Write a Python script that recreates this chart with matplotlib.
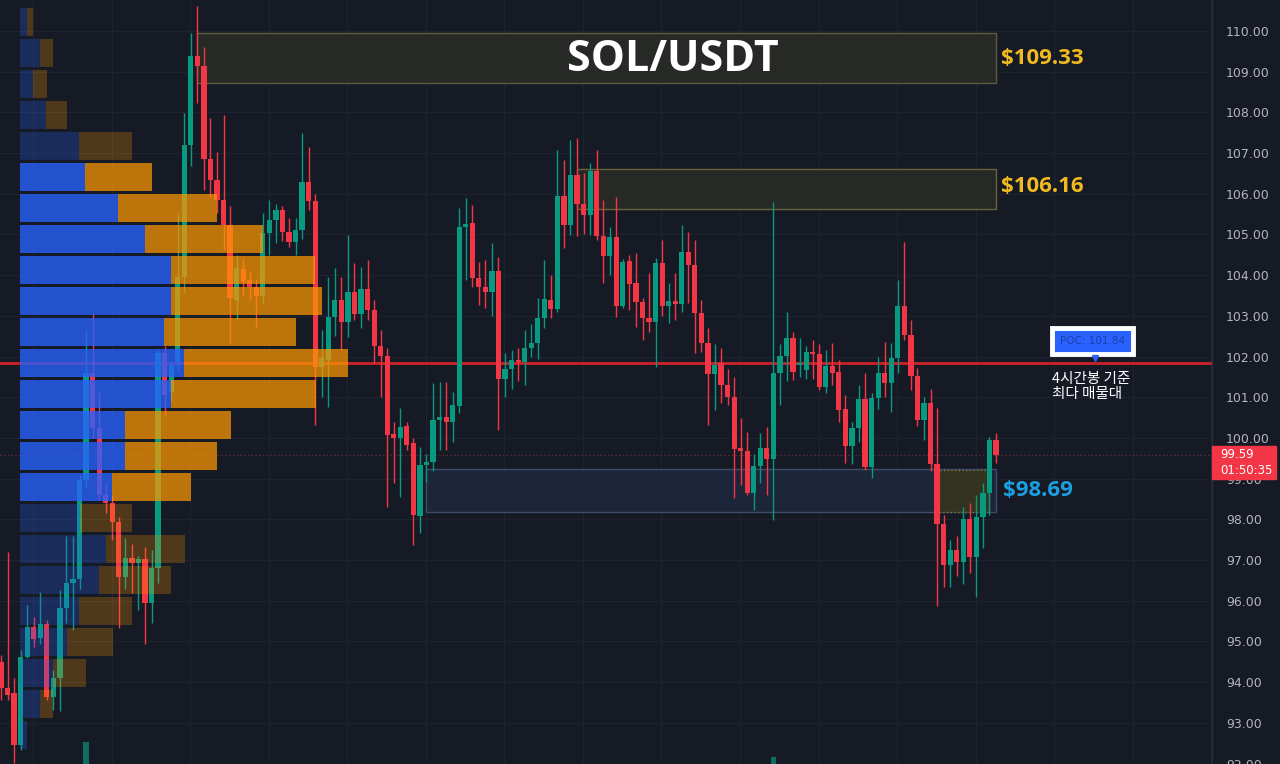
import numpy as np
import matplotlib.pyplot as plt
from matplotlib.patches import Rectangle

# 4h SOL/USDT candles
opens = [94.50, 93.86, 93.73, 92.46, 94.63, 95.36, 95.08, 95.43, 93.64, 94.10,
         95.82, 96.44, 96.53, 98.97, 101.59, 100.24, 98.60, 98.40, 97.94, 96.59,
         97.04, 96.92, 97.02, 95.94, 96.80, 102.08, 101.14, 101.87, 103.96, 107.20,
         109.39, 109.14, 106.85, 106.34, 105.85, 105.23, 103.39, 104.15, 103.88, 103.72,
         103.49, 105.03, 105.36, 105.60, 105.07, 104.82, 105.11, 106.30, 105.81, 101.75,
         101.92, 102.98, 103.39, 102.86, 103.59, 103.05, 103.65, 103.14, 102.26, 102.02,
         100.10, 99.99, 100.29, 99.87, 98.08, 99.34, 99.42, 100.44, 100.51, 100.40,
         100.79, 105.18, 105.29, 103.94, 103.72, 103.59, 104.09, 101.44, 101.69, 101.92,
         101.86, 102.22, 102.33, 102.94, 103.39, 103.16, 105.95, 105.23, 106.46, 105.75,
         105.48, 106.56, 104.95, 104.47, 104.93, 103.25, 104.36, 103.80, 103.35, 102.94,
         102.86, 104.31, 103.23, 103.37, 103.29, 104.58, 104.25, 103.08, 102.34, 101.56,
         101.83, 101.30, 101.00, 99.75, 99.69, 98.64, 99.30, 99.75, 99.48, 101.60,
         102.01, 102.45, 101.80, 101.66, 102.12, 102.06, 101.26, 101.77, 101.63, 100.70,
         99.80, 100.24, 100.96, 99.28, 100.98, 101.59, 101.36, 101.96, 103.24, 102.53,
         101.53, 100.43, 100.85, 99.36, 97.89, 96.88, 97.25, 96.96, 98.00, 97.08,
         98.07, 98.66, 99.95]
closes = [93.86, 93.69, 92.46, 94.63, 95.36, 95.05, 95.43, 93.64, 94.10, 95.82,
          96.44, 96.53, 98.97, 101.59, 100.24, 98.60, 98.40, 97.94, 96.59, 97.04,
          96.92, 97.02, 95.94, 96.80, 102.08, 101.06, 101.79, 103.96, 107.20, 109.39,
          109.14, 106.85, 106.34, 105.85, 105.23, 103.43, 104.17, 103.84, 103.72, 103.49,
          105.03, 105.36, 105.60, 105.07, 104.82, 105.11, 106.30, 105.81, 101.75, 101.96,
          102.98, 103.39, 102.86, 103.59, 103.05, 103.65, 103.14, 102.26, 102.02, 100.07,
          99.99, 100.28, 99.83, 98.11, 99.34, 99.42, 100.44, 100.51, 100.40, 100.81,
          105.18, 105.26, 103.94, 103.72, 103.59, 104.09, 101.44, 101.69, 101.92, 101.86,
          102.22, 102.34, 102.94, 103.41, 103.16, 105.95, 105.23, 106.46, 105.75, 105.48,
          106.56, 104.95, 104.47, 104.93, 103.25, 104.33, 103.78, 103.33, 102.94, 102.84,
          104.31, 103.23, 103.37, 103.29, 104.58, 104.25, 103.08, 102.33, 101.56, 101.79,
          101.30, 101.00, 99.72, 99.69, 98.64, 99.30, 99.75, 99.48, 101.60, 102.01,
          102.45, 101.63, 101.84, 102.12, 102.06, 101.26, 101.77, 101.60, 100.69, 99.80,
          100.24, 100.96, 99.28, 100.98, 101.59, 101.36, 101.96, 103.24, 102.53, 101.53,
          100.43, 100.85, 99.36, 97.89, 96.88, 97.25, 96.96, 98.00, 97.08, 98.07,
          98.66, 99.95, 99.59]
highs = [94.67, 97.21, 94.10, 94.79, 95.90, 95.61, 96.22, 95.53, 94.30, 96.27,
         97.58, 97.58, 99.10, 102.65, 103.07, 101.14, 98.90, 98.60, 98.07, 97.54,
         97.40, 97.10, 97.33, 97.25, 102.16, 102.25, 101.90, 105.50, 107.98, 109.95,
         110.61, 109.61, 107.86, 107.03, 107.94, 105.70, 104.50, 104.40, 104.10, 103.90,
         105.52, 105.85, 105.75, 105.70, 105.40, 105.40, 107.49, 107.16, 106.00, 102.65,
         103.96, 104.17, 103.96, 104.99, 104.29, 104.21, 104.37, 103.40, 102.65, 102.20,
         100.40, 100.73, 100.40, 100.00, 99.79, 99.60, 101.34, 101.38, 101.38, 101.14,
         105.64, 105.89, 105.72, 104.33, 104.37, 104.78, 104.45, 102.08, 102.15, 102.20,
         102.65, 102.80, 103.43, 104.37, 104.00, 107.08, 106.83, 107.32, 107.36, 106.50,
         106.75, 107.08, 105.85, 105.19, 105.93, 104.40, 104.50, 104.54, 103.45, 104.05,
         104.42, 104.86, 103.80, 104.05, 105.23, 105.07, 104.86, 103.40, 102.70, 102.30,
         102.20, 101.70, 101.51, 100.48, 100.15, 99.60, 100.11, 100.28, 105.80, 102.30,
         103.10, 102.61, 102.45, 102.25, 102.41, 102.30, 102.17, 102.33, 101.92, 101.06,
         100.40, 101.30, 101.59, 101.10, 102.00, 102.37, 102.33, 103.88, 104.82, 102.90,
         101.71, 101.00, 101.20, 100.73, 98.10, 97.50, 97.60, 98.31, 98.40, 98.60,
         98.90, 100.03, 100.11]
lows = [93.56, 93.56, 92.01, 92.33, 94.59, 94.87, 94.95, 93.56, 93.32, 93.28,
        95.45, 95.28, 96.30, 98.80, 100.00, 98.48, 98.16, 97.49, 95.32, 96.30,
        96.19, 95.77, 94.95, 95.45, 96.44, 100.57, 100.90, 101.65, 103.56, 106.67,
        108.23, 106.09, 105.93, 105.52, 104.62, 102.33, 102.90, 103.50, 103.40, 102.73,
        103.30, 104.50, 104.78, 104.85, 104.70, 104.50, 104.90, 105.60, 100.32, 101.00,
        100.77, 102.50, 102.16, 102.49, 102.90, 102.70, 102.90, 101.84, 101.01, 98.31,
        98.89, 98.56, 99.70, 97.37, 97.67, 98.93, 99.20, 99.71, 99.71, 99.90,
        100.61, 103.88, 103.72, 103.27, 103.20, 103.00, 100.20, 101.01, 101.20, 101.40,
        101.30, 101.98, 101.95, 102.70, 102.95, 103.10, 104.66, 104.99, 104.95, 105.00,
        104.99, 104.86, 103.80, 104.00, 102.98, 103.19, 103.14, 102.73, 102.41, 102.60,
        101.75, 103.00, 102.82, 102.90, 103.10, 103.32, 102.08, 102.10, 100.32, 100.69,
        100.85, 100.80, 98.52, 98.85, 98.60, 98.23, 98.90, 98.60, 97.99, 100.80,
        101.40, 101.42, 101.50, 101.46, 101.45, 101.18, 101.10, 101.30, 100.40, 99.38,
        99.36, 99.90, 99.21, 99.01, 100.70, 101.00, 100.65, 101.60, 102.40, 101.18,
        100.30, 99.95, 99.20, 95.86, 96.35, 96.35, 96.60, 96.40, 96.68, 96.10,
        97.30, 98.10, 99.38]

# volume profile rows, top to bottom (buy / sell volume)
vp_buy = [7, 20, 13, 26, 59, 65, 98, 125, 151, 151, 144, 164, 151, 105, 105, 92, 60, 86, 79, 59, 47, 33, 20, 7]
vp_sell = [6, 13, 14, 21, 53, 67, 99, 118, 144, 151, 132, 164, 145, 106, 92, 79, 52, 79, 72, 53, 46, 33, 13, 0]
poc = 101.84
poc_row = 11
va_rows = range(5, 16)

# the two volume bars that peek above the bottom edge
vol_idx = [13, 118]
vol_top = [92.53, 92.16]

last_price = 99.59
countdown = '01:50:35'
levels = {'top': 109.33, 'mid': 106.16, 'low': 98.69}

BG = '#161a25'
GREEN = '#089981'
RED = '#f23645'
GOLD = '#f0b91e'

fig = plt.figure(figsize=(12.8, 7.64), dpi=100, facecolor=BG)
ax = fig.add_axes([0, 0, 1212 / 1280, 1])
ax.set_facecolor(BG)
ymin, ymax = 91.99, 110.76
ax.set_xlim(-0.153, 185.0)
ax.set_ylim(ymin, ymax)

# grid
for v in range(92, 111):
    ax.axhline(v, color='#1f2330', lw=0.8, zorder=0)
for gx in np.arange(4.9, 186, 12):
    ax.axvline(gx, color='#1f2330', lw=0.8, zorder=0)

# zones
ax.add_patch(Rectangle((29.9, 108.72), 152.0 - 29.9, 109.95 - 108.72,
                       facecolor='#272926', edgecolor='#5e5a3c', lw=1, zorder=1))
ax.add_patch(Rectangle((88.0, 105.63), 152.0 - 88.0, 106.61 - 105.63,
                       facecolor='#262925', edgecolor='#6b6339', lw=1, zorder=1))
ax.add_patch(Rectangle((64.9, 98.18), 152.0 - 64.9, 99.24 - 98.18,
                       facecolor='#1c2539', edgecolor='#3d4d6b', lw=1, zorder=1))
ax.add_patch(Rectangle((143.3, 98.18), 150.9 - 143.3, 99.22 - 98.18,
                       facecolor='#34331f', edgecolor='#7d7a3a', lw=1, ls=':', zorder=1.1))

# candles
x = np.arange(len(opens))
o = np.array(opens); c = np.array(closes)
cols = [GREEN if cc >= oo else RED for oo, cc in zip(opens, closes)]
ax.vlines(x, lows, highs, colors=cols, lw=1, zorder=2)
ax.bar(x, np.maximum(np.abs(c - o), 0.04), bottom=np.minimum(o, c), width=0.8,
       color=cols, zorder=2)
ax.bar(vol_idx, np.array(vol_top) - ymin, bottom=ymin, width=0.8, color='#0e6d5e', zorder=1.5)

# POC and last price lines
ax.axhline(poc, color='#cc2229', lw=2, zorder=1.8)
ax.axhline(last_price, color='#6b2f3a', lw=0.9, ls=(0, (1, 2)), zorder=1.2)

# texts
ax.text(102.7, 109.30, 'SOL/USDT', color='white', fontsize=31, fontweight='bold',
        family='Open Sans', ha='center', va='center', zorder=4)
ax.text(152.8, 109.33, f"${levels['top']:.2f}", color=GOLD, fontsize=16, fontweight='bold',
        family='Open Sans', ha='left', va='center', zorder=4)
ax.text(152.8, 106.17, f"${levels['mid']:.2f}", color=GOLD, fontsize=16, fontweight='bold',
        family='Open Sans', ha='left', va='center', zorder=4)
ax.text(153.1, 98.72, f"${levels['low']:.2f}", color='#1c9fe0', fontsize=16, fontweight='bold',
        family='Open Sans', ha='left', va='center', zorder=4)

ax.text(166.8, 102.38, f'POC: {poc:.2f}', color='#1c3faa', fontsize=7.5, ha='center', va='center',
        zorder=5, bbox=dict(boxstyle='square,pad=0.75', facecolor='#2962ff', edgecolor='white', lw=3.5))
ax.plot([167.1], [101.96], marker='v', color='#2962ff', markersize=5, zorder=5)
ax.text(160.6, 101.62, '4시간봉 기준\n최다 매물대', color='white', fontsize=10.5, fontweight='medium',
        family=['Noto Sans CJK KR', 'DejaVu Sans'], ha='left', va='top', linespacing=1.1, zorder=5)

# right price scale
ax.yaxis.tick_right()
ax.set_yticks(range(92, 111))
ax.set_yticklabels([f'{v:.2f}' for v in range(92, 111)])
ax.tick_params(axis='y', length=0, pad=10, labelsize=9, labelcolor='#b2b5be')
ax.set_xticks([])
for s in ax.spines.values():
    s.set_visible(False)

# volume profile overlay
ax_vp = fig.add_axes([20 / 1280, 0, 1192 / 1280, 1])
ax_vp.set_xlim(0, 1192)
ax_vp.set_ylim(ymin, ymax)
ax_vp.axis('off')
ax_vp.patch.set_alpha(0)
step = 0.762
for k, (b, s) in enumerate(zip(vp_buy, vp_sell)):
    yc = poc + (poc_row - k) * step
    inside = k in va_rows
    ab, ao = (0.78, 0.72) if inside else (0.25, 0.25)
    ax_vp.barh(yc, b, height=0.69, left=0, color='#2962ff', alpha=ab, lw=0)
    if s:
        ax_vp.barh(yc, s, height=0.69, left=b, color='#ff9800', alpha=ao, lw=0)

# price tag on the scale
fig.add_artist(plt.Line2D([1212 / 1280, 1212 / 1280], [0, 1], transform=fig.transFigure,
                          color='#2a2e39', lw=1))
fig.add_artist(Rectangle((1212 / 1280, 1 - 479 / 764), 64 / 1280, 33 / 764,
                         transform=fig.transFigure, color=RED, zorder=5))
fig.text(1220 / 1280, 1 - 455 / 764, f'{last_price:.2f}', color='white', fontsize=8.5,
         va='center', ha='left', zorder=6)
fig.text(1220 / 1280, 1 - 470 / 764, countdown, color='white', fontsize=8.5,
         va='center', ha='left', zorder=6)

fig.savefig('out.png', dpi=100, facecolor=BG)
